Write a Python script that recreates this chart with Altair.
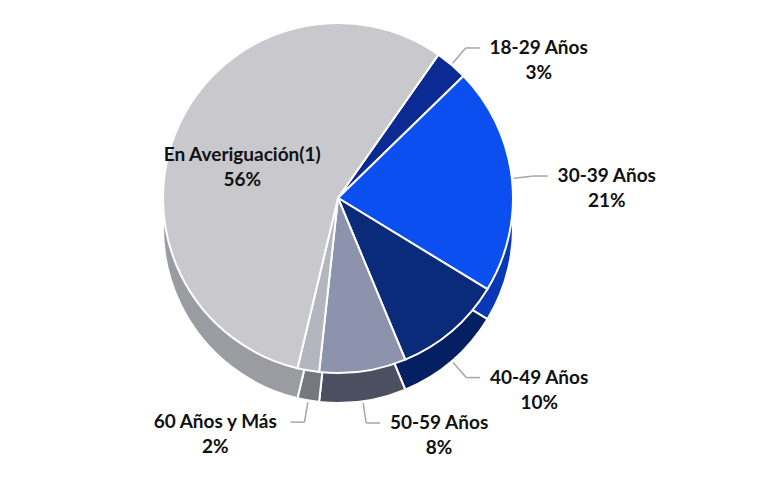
import math
import altair as alt
import pandas as pd

categories = ["18-29 Años", "30-39 Años", "40-49 Años", "50-59 Años", "60 Años y Más", "En Averiguación(1)"]
values = [3, 21, 10, 8, 2, 56]
top_colors = ["#0b2a93", "#0b4ff0", "#0a2a7a", "#8d92ad", "#b3b6bf", "#c8c8cd"]
side_colors = ["#081d66", "#0838b8", "#052062", "#4c4f60", "#77787f", "#9b9ca1"]

df = pd.DataFrame({"cat": categories, "value": values, "idx": list(range(len(categories)))})

W, H = 741, 462
CX, CY, R, DEPTH = 330, 190, 175, 30
OFF = math.radians(35)

base = alt.Chart(df)

theta = alt.Theta("value:Q", stack=True, scale=alt.Scale(range=[OFF, OFF + 2 * math.pi]))
order = alt.Order("idx:Q")

side = base.mark_arc(outerRadius=R, stroke="white", strokeWidth=2).encode(
    theta=theta,
    order=order,
    color=alt.Color("cat:N", scale=alt.Scale(domain=categories, range=side_colors), legend=None),
    x=alt.value(CX),
    y=alt.value(CY + DEPTH),
)

top = base.mark_arc(outerRadius=R, stroke="white", strokeWidth=2).encode(
    theta=theta,
    order=order,
    color=alt.Color("cat2:N", scale=alt.Scale(domain=categories, range=top_colors), legend=None),
    x=alt.value(CX),
    y=alt.value(CY),
).transform_calculate(cat2="datum.cat")

geo = base.transform_joinaggregate(total="sum(value)").transform_window(
    cum="sum(value)", sort=[alt.SortField("idx")], frame=[None, 0]
).transform_calculate(
    a=f"{OFF} + 2*PI*(datum.cum - datum.value/2)/datum.total",
).transform_calculate(
    s="sin(datum.a)", c="cos(datum.a)",
).transform_calculate(
    sg="datum.s >= 0 ? 1 : -1",
    cy0=f"{CY} + (datum.c < 0 ? {DEPTH} : 0)",
).transform_calculate(
    x0=f"{CX} + ({R}+2)*datum.s",
    y0=f"datum.cy0 - ({R}+2)*datum.c",
    ex=f"{CX} + ({R}+22)*datum.s",
    ey=f"datum.cy0 - ({R}+22)*datum.c",
).transform_calculate(
    hx="datum.ex + datum.sg*14",
    inside="datum.value > 50",
).transform_calculate(
    lx=f"datum.inside ? {CX} + {R}*0.6*datum.s : datum.hx + datum.sg*(5 + length(datum.cat)*5.4)",
    ly=f"datum.inside ? {CY} - {R}*0.6*datum.c : datum.ey",
    txt="datum.cat + '\\n' + datum.value + '%'",
)

leader1 = geo.transform_filter("!datum.inside").mark_rule(color="#a6a6a6", strokeWidth=1.5).encode(
    x=alt.X("x0:Q", scale=None), y=alt.Y("y0:Q", scale=None),
    x2="ex:Q", y2="ey:Q",
)
leader2 = geo.transform_filter("!datum.inside").mark_rule(color="#a6a6a6", strokeWidth=1.5).encode(
    x=alt.X("ex:Q", scale=None), y=alt.Y("ey:Q", scale=None),
    x2="hx:Q", y2="ey:Q",
)
labels = geo.mark_text(
    font="Lato", fontSize=19, fontWeight="bold", color="#111111",
    align="center", baseline="middle", lineBreak="\n", lineHeight=25,
).encode(
    x=alt.X("lx:Q", scale=None), y=alt.Y("ly:Q", scale=None), text="txt:N",
)

chart = alt.layer(side, top, leader1, leader2, labels).resolve_scale(
    color="independent"
).properties(
    width=W, height=H, padding=0, autosize=alt.AutoSizeParams(type="none"), background="white"
).configure_view(stroke=None)

chart.save("out.html", embed_options={"renderer": "svg", "actions": False})
